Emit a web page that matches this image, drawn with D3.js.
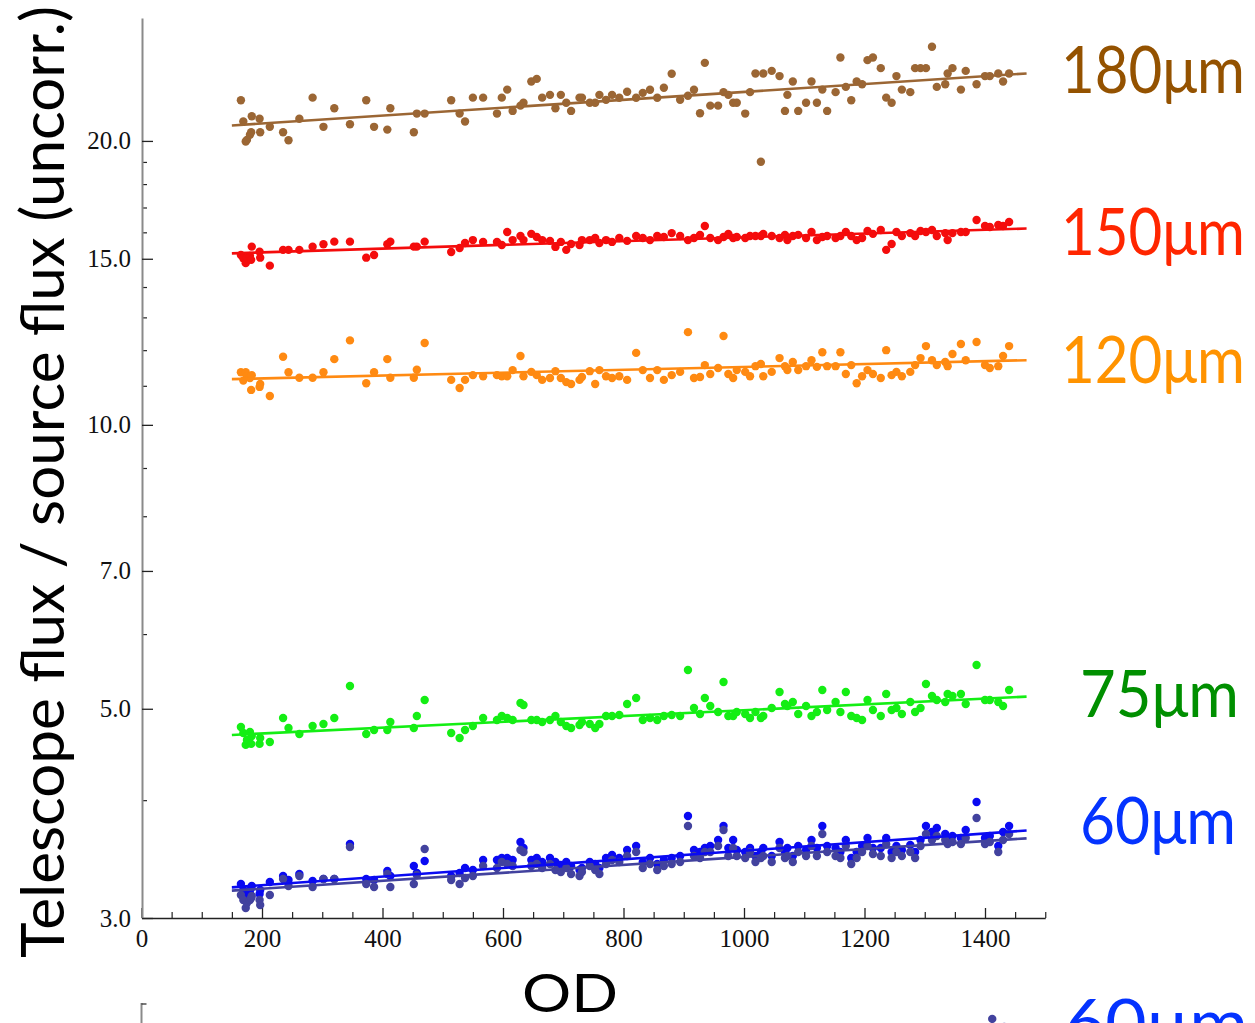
<!DOCTYPE html>
<html>
<head>
<meta charset="utf-8">
<script src="https://cdn.jsdelivr.net/npm/d3@7"></script>
<style>
  body { margin: 0; background: #fff; }
  svg { display: block; }
</style>
</head>
<body>
<svg id="chart" width="1255" height="1023"></svg>
<script>
// Operational day of each observation (shared by all bands)
const od = [165,169,173,175,180,182,183,196,197,213,
  235,244,262,284,302,320,346,373,386,408,
  413,452,457,470,514,528,537,550,567,590,
  598,607,616,629,634,647,656,665,678,687,
  696,705,713,727,731,744,753,760,771,781,
  793,806,821,832,844,856,867,880,894,907,
  917,927,935,944,957,966,974,982,988,1002,
  1010,1019,1028,1032,1046,1059,1068,1072,1081,1090,
  1103,1112,1121,1130,1138,1152,1160,1169,1178,1187,
  1196,1205,1214,1227,1236,1245,1253,1262,1276,1284,
  1293,1302,1312,1320,1334,1338,1346,1360,1368,1386,
  1400,1408,1422,1430,1440];

// Telescope flux / source flux per band
const flux180 = [22.09,20.97,19.97,20.05,20.30,20.43,21.24,21.11,20.43,20.70,
  20.43,20.03,21.11,22.23,20.70,21.66,20.83,22.09,20.70,20.56,
  21.66,20.43,21.38,21.38,22.09,21.38,20.97,22.23,22.23,21.38,
  22.23,22.67,21.52,21.80,21.95,23.12,23.27,22.23,22.38,21.66,
  22.38,21.95,21.52,22.23,22.23,21.95,21.95,22.38,22.11,22.38,
  22.22,22.55,22.22,22.49,22.66,22.22,22.77,23.56,22.11,22.33,
  22.66,21.40,24.20,21.80,21.80,22.53,22.38,21.95,21.95,21.38,
  22.53,23.58,19.01,23.58,23.73,23.43,21.52,22.38,23.12,21.52,
  21.95,23.12,21.95,22.67,21.52,22.53,24.52,22.82,22.09,23.12,
  22.97,24.36,24.52,23.89,22.23,21.95,23.43,22.67,22.53,23.89,
  23.89,23.89,25.17,22.82,22.97,23.58,23.89,22.67,23.73,22.97,
  23.43,23.43,23.58,23.12,23.58];

const flux150 = [15.14,15.02,14.84,15.03,15.10,14.96,15.45,15.26,15.04,14.75,
  15.33,15.33,15.33,15.45,15.54,15.64,15.64,15.04,15.14,15.54,
  15.64,15.45,15.45,15.64,15.25,15.40,15.59,15.70,15.63,15.63,
  15.51,16.01,15.70,15.86,15.70,15.94,15.82,15.70,15.67,15.44,
  15.63,15.33,15.55,15.51,15.70,15.70,15.78,15.59,15.70,15.63,
  15.78,15.67,15.86,15.78,15.70,15.86,15.82,15.97,15.86,15.70,
  15.78,15.90,16.25,15.78,15.70,15.82,15.94,15.78,15.82,15.78,
  15.86,15.86,15.86,15.94,15.86,15.78,15.90,15.70,15.86,15.90,
  15.78,16.01,15.70,15.82,15.86,15.78,15.86,16.01,15.86,15.70,
  15.78,16.05,15.94,16.09,15.33,15.55,16.01,15.86,15.97,15.86,
  16.05,16.01,16.09,15.86,15.97,15.70,15.97,16.01,16.01,16.49,
  16.25,16.21,16.29,16.25,16.41];

const flux120 = [11.37,11.14,11.37,11.26,11.21,10.89,11.29,10.97,11.05,10.73,
  11.81,11.37,11.22,11.22,11.37,11.74,12.29,11.07,11.37,11.74,
  11.22,11.22,11.44,12.21,11.16,10.94,11.16,11.29,11.26,11.29,
  11.26,11.26,11.43,11.83,11.26,11.38,11.29,11.16,11.21,11.40,
  11.21,11.10,11.05,11.16,11.24,11.40,11.05,11.43,11.26,11.21,
  11.26,11.16,11.92,11.43,11.21,11.43,11.16,11.29,11.38,12.54,
  11.21,11.24,11.57,11.32,11.49,12.42,11.32,11.21,11.43,11.38,
  11.26,11.54,11.60,11.26,11.38,11.77,11.54,11.43,11.66,11.43,
  11.54,11.71,11.52,11.94,11.54,11.54,11.94,11.32,11.57,11.07,
  11.26,11.43,11.32,11.21,12.00,11.29,11.38,11.26,11.38,11.57,
  11.77,12.12,11.71,11.57,11.66,11.54,11.89,12.18,11.71,12.24,
  11.57,11.49,11.54,11.83,12.12];

const flux75 = [4.783,4.713,4.578,4.634,4.725,4.589,4.679,4.589,4.656,4.611,
  4.889,4.771,4.702,4.794,4.818,4.889,5.286,4.702,4.748,4.748,
  4.841,4.771,4.913,5.109,4.713,4.656,4.748,4.794,4.889,4.865,
  4.913,4.889,4.865,5.071,5.047,4.865,4.865,4.841,4.865,4.913,
  4.841,4.794,4.771,4.806,4.841,4.818,4.771,4.818,4.913,4.913,
  4.925,5.059,5.134,4.865,4.889,4.865,4.913,4.925,4.913,5.496,
  5.010,4.937,5.134,5.034,4.961,5.338,4.913,4.913,4.961,4.937,
  4.889,4.961,4.889,4.913,5.010,5.209,5.059,5.034,5.084,4.937,
  5.034,4.913,4.961,5.235,4.985,5.084,4.961,5.209,4.913,4.889,
  4.865,5.109,4.985,4.913,5.184,4.985,5.010,4.937,5.084,4.961,
  5.010,5.312,5.159,5.109,5.084,5.184,5.159,5.184,5.059,5.563,
  5.109,5.109,5.084,5.034,5.235];

const flux60a = [3.260,3.212,3.166,3.150,3.189,3.228,3.244,3.181,3.212,3.276,
  3.324,3.292,3.340,3.284,3.300,3.300,3.594,3.300,3.292,3.365,
  3.324,3.406,3.348,3.448,3.324,3.348,3.390,3.373,3.456,3.456,
  3.473,3.473,3.456,3.612,3.559,3.456,3.473,3.440,3.473,3.440,
  3.414,3.440,3.406,3.373,3.390,3.440,3.423,3.390,3.473,3.499,
  3.473,3.542,3.577,3.440,3.473,3.423,3.456,3.473,3.490,3.848,
  3.542,3.525,3.559,3.577,3.629,3.756,3.559,3.629,3.542,3.525,
  3.559,3.490,3.525,3.559,3.490,3.612,3.525,3.559,3.490,3.577,
  3.542,3.629,3.559,3.756,3.577,3.559,3.525,3.629,3.473,3.525,
  3.577,3.647,3.559,3.559,3.647,3.525,3.577,3.542,3.585,3.525,
  3.629,3.756,3.701,3.737,3.683,3.647,3.665,3.647,3.719,3.982,
  3.647,3.665,3.577,3.701,3.756];

const flux60b = [3.173,3.135,3.074,3.112,3.135,3.150,3.166,3.135,3.097,3.173,
  3.300,3.244,3.324,3.236,3.300,3.300,3.568,3.260,3.236,3.340,
  3.236,3.260,3.332,3.550,3.292,3.260,3.308,3.324,3.406,3.390,
  3.440,3.423,3.406,3.542,3.525,3.406,3.423,3.390,3.423,3.373,
  3.357,3.390,3.340,3.324,3.357,3.406,3.373,3.340,3.423,3.456,
  3.440,3.490,3.525,3.390,3.423,3.373,3.406,3.423,3.440,3.756,
  3.490,3.473,3.525,3.525,3.577,3.719,3.490,3.559,3.490,3.473,
  3.525,3.440,3.473,3.490,3.440,3.559,3.473,3.490,3.440,3.525,
  3.490,3.577,3.490,3.683,3.525,3.490,3.473,3.577,3.423,3.473,
  3.525,3.577,3.507,3.490,3.594,3.473,3.525,3.490,3.525,3.473,
  3.577,3.683,3.629,3.665,3.629,3.594,3.612,3.594,3.647,3.830,
  3.594,3.612,3.525,3.629,3.683];

// Linear trend fits, evaluated at the ends of the fitted OD range
const fitOD = [150, 1469];
const fit180 = [20.77, 23.58];
const fit150 = [15.20, 16.15];
const fit120 = [11.18, 11.71];
const fit75 = [4.69, 5.15];
const fit60a = [3.233, 3.714];
const fit60b = [3.207, 3.644];

// Band names
const bandLabels = ["180μm", "150μm", "120μm", "75μm", "60μm"];

// Axis ticks
const xMajorTicks = [0, 200, 400, 600, 800, 1000, 1200, 1400];
const xMinorTicks = [50,100,150,250,300,350,450,500,550,650,700,750,850,900,950,
  1050,1100,1150,1250,1300,1350,1450,1500];
const yMajorTicks = [3, 5, 7, 10, 15, 20];
const yMinorTicks = [4, 6, 8, 9, 11, 12, 13, 14, 16, 17, 18, 19];

// Next panel (60μm), only its top edge falls inside the page
const nextPanelOD = [1412, 1432];
const nextPanelFlux = [4.06, 4.04];

const series = [
  { values: flux180, fit: fit180, color: "#9b6634" },
  { values: flux150, fit: fit150, color: "#f40c0c" },
  { values: flux120, fit: fit120, color: "#ff8a12" },
  { values: flux75,  fit: fit75,  color: "#14ee14" },
  { values: flux60a, fit: fit60a, color: "#0a0af2" },
  { values: flux60b, fit: fit60b, color: "#42429e" }
];

const labelStyles = [
  { color: "#945200", baseline: 93,  right: 1245, width: 184 },
  { color: "#ff2600", baseline: 255, right: 1245, width: 184 },
  { color: "#ff9300", baseline: 383, right: 1245, width: 184 },
  { color: "#008f00", baseline: 717, right: 1239, width: 159 },
  { color: "#0433ff", baseline: 844, right: 1236, width: 156 }
];

const svg = d3.select("#chart");
const x = d3.scaleLinear().domain([0, 1500]).range([141.5, 1045.25]);
const y = d3.scaleLog().domain([3, 27]).range([918, 18]);

const tickFont = "'Liberation Serif', 'Times New Roman', serif";
const titleFont = "Lato, 'Noto Sans', sans-serif";

// Squeeze a right-anchored label horizontally so it spans the given width
function placeLabel(sel, right, baseline, width) {
  const natural = sel.node().getComputedTextLength();
  const sx = width / natural;
  sel.attr("x", 0).attr("y", 0)
    .attr("transform", `translate(${right},${baseline}) scale(${sx},1)`);
}

// ---- x axis ----
svg.append("g")
  .attr("transform", "translate(0,918)")
  .call(d3.axisBottom(x).tickValues(xMinorTicks).tickSize(-6).tickSizeOuter(0).tickFormat(""))
  .call(g => g.select(".domain").remove())
  .call(g => g.selectAll(".tick line").attr("stroke", "#222").attr("stroke-width", 1.2));

const xAxis = svg.append("g")
  .attr("transform", "translate(0,918)")
  .call(d3.axisBottom(x).tickValues(xMajorTicks).tickSize(-10).tickSizeOuter(0)
    .tickPadding(11).tickFormat(d3.format("d")));
xAxis.select(".domain").attr("stroke", "#222").attr("stroke-width", 1.6);
xAxis.selectAll(".tick line").attr("stroke", "#222").attr("stroke-width", 1.3);
xAxis.selectAll(".tick text")
  .attr("font-family", tickFont).attr("font-size", 25).attr("fill", "#111");

// ---- y axis ----
svg.append("g")
  .attr("transform", "translate(142,0)")
  .call(d3.axisLeft(y).tickValues(yMinorTicks).tickSize(-5).tickSizeOuter(0).tickFormat(""))
  .call(g => g.select(".domain").remove())
  .call(g => g.selectAll(".tick line").attr("stroke", "#222").attr("stroke-width", 1.2));

const yAxis = svg.append("g")
  .attr("transform", "translate(142,0)")
  .call(d3.axisLeft(y).tickValues(yMajorTicks).tickSize(-11).tickSizeOuter(0)
    .tickPadding(11).tickFormat(d3.format(".1f")));
yAxis.select(".domain").attr("stroke", "#8a8a8a").attr("stroke-width", 2);
yAxis.selectAll(".tick line").attr("stroke", "#222").attr("stroke-width", 1.3);
yAxis.selectAll(".tick text")
  .attr("font-family", tickFont).attr("font-size", 25).attr("fill", "#111");

// ---- data points ----
series.forEach(s => {
  svg.append("g")
    .selectAll("circle")
    .data(od.map((d, i) => [d, s.values[i]]))
    .join("circle")
    .attr("cx", d => x(d[0]))
    .attr("cy", d => y(d[1]))
    .attr("r", 4.2)
    .attr("fill", s.color);
});

// ---- trend lines ----
const line = d3.line().x(d => x(d[0])).y(d => y(d[1]));
series.forEach(s => {
  svg.append("path")
    .attr("d", line(fitOD.map((d, i) => [d, s.fit[i]])))
    .attr("fill", "none")
    .attr("stroke", s.color)
    .attr("stroke-width", 2.6);
});

// ---- band labels ----
bandLabels.forEach((t, i) => {
  const st = labelStyles[i];
  const label = svg.append("text")
    .attr("text-anchor", "end")
    .attr("font-family", titleFont)
    .attr("font-size", 66)
    .attr("fill", st.color)
    .text(t);
  placeLabel(label, st.right, st.baseline, st.width);
});

// ---- axis titles ----
svg.append("text")
  .attr("transform", "translate(64,482) rotate(-90)")
  .attr("text-anchor", "middle")
  .attr("font-family", titleFont)
  .attr("font-size", 60)
  .attr("fill", "#000")
  .attr("textLength", 952)
  .attr("lengthAdjust", "spacingAndGlyphs")
  .text("Telescope flux / source flux (uncorr.)");

svg.append("text")
  .attr("x", 570).attr("y", 1012)
  .attr("text-anchor", "middle")
  .attr("font-family", titleFont)
  .attr("font-size", 52)
  .attr("fill", "#000")
  .attr("textLength", 96)
  .attr("lengthAdjust", "spacingAndGlyphs")
  .text("OD");

// ---- top edge of the next (60μm) panel ----
const y2 = d3.scaleLinear().domain([3.0, 4.1]).range([1440, 1003]);
const panel2 = svg.append("g");
panel2.append("path")
  .attr("d", d3.line()([[x(0), y2(4.1)], [x(0), 1030]]))
  .attr("stroke", "#8a8a8a").attr("stroke-width", 2).attr("fill", "none");
panel2.append("path")
  .attr("d", d3.line()([[x(0), y2(4.1) + 1], [x(0) + 5, y2(4.1) + 1]]))
  .attr("stroke", "#222").attr("stroke-width", 1.2);
panel2.selectAll("circle")
  .data(nextPanelOD.map((d, i) => [d, nextPanelFlux[i]]))
  .join("circle")
  .attr("cx", d => x(d[0]))
  .attr("cy", d => y2(d[1]))
  .attr("r", 4.2)
  .attr("fill", "#42429e");
const nextLabel = panel2.append("text")
  .attr("text-anchor", "end")
  .attr("font-family", titleFont)
  .attr("font-size", 66)
  .attr("fill", "#0433ff")
  .text("60μm");
placeLabel(nextLabel, 1248, 1046, 184);
</script>
</body>
</html>
